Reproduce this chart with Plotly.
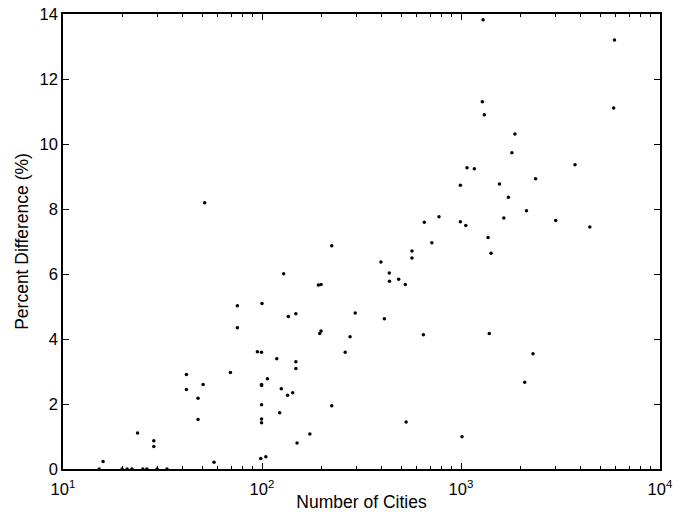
import plotly.graph_objects as go

# Data
cities = [
    15.9, 23.7, 28.6, 28.6, 41.7, 41.7, 47.7, 47.7, 50.6, 51.5, 57.4, 69.4, 75.2, 75.2, 94.8,
    15.2, 19.8, 21.0, 22.2, 25.2, 26.4, 29.7, 33.3,
    99.4, 100, 128.5, 135.6, 148, 192, 198, 198, 195, 294, 277, 262, 118.6, 148, 148,
    106.5, 99.5, 99.5, 125, 134.5, 142.6, 99.5, 122.7, 224, 99.5, 99.5, 174, 150, 98.6, 104.5,
    396, 436, 437, 486, 525, 412, 647, 530, 1012, 567, 567,
    1072, 993, 775, 654, 993, 1057, 224, 714,
    1291, 5905, 1280, 1310, 5850, 1867, 1802, 3741, 1167, 2372, 1561, 1730, 2133, 1641,
    2991, 4439, 1368, 1416,
    1387, 2300, 2090,
]
pct_diff = [
    0.23, 1.11, 0.87, 0.69, 2.91, 2.45, 2.18, 1.52, 2.60, 8.19, 0.21, 2.97, 5.02, 4.35, 3.61,
    0, 0, 0, 0, 0, 0, 0, 0,
    3.59, 5.09, 6.01, 4.69, 4.78, 5.66, 5.68, 4.25, 4.17, 4.80, 4.07, 3.59, 3.39, 3.30, 3.09,
    2.78, 2.60, 2.57, 2.47, 2.27, 2.35, 1.98, 1.73, 1.95, 1.54, 1.42, 1.08, 0.80, 0.32, 0.38,
    6.37, 6.03, 5.78, 5.84, 5.68, 4.62, 4.13, 1.45, 0.99, 6.71, 6.49,
    9.27, 8.73, 7.76, 7.59, 7.61, 7.49, 6.87, 6.96,
    13.82, 13.20, 11.30, 10.90, 11.11, 10.31, 9.73, 9.36, 9.24, 8.93, 8.77, 8.36, 7.95, 7.72,
    7.65, 7.45, 7.12, 6.64,
    4.17, 3.55, 2.67,
]

x_major = [10, 100, 1000, 10000]
x_major_text = ["10<sup>1</sup>", "10<sup>2</sup>", "10<sup>3</sup>", "10<sup>4</sup>"]
x_minor = [m * d for d in (10, 100, 1000) for m in range(2, 10)]
y_ticks = [0, 2, 4, 6, 8, 10, 12, 14]

font_family = "Liberation Sans, Arial, Helvetica, sans-serif"

fig = go.Figure()
fig.add_trace(go.Scatter(
    x=cities, y=pct_diff, mode="markers",
    marker=dict(color="black", size=3.5, symbol="circle", line=dict(width=0)),
    cliponaxis=False, showlegend=False,
))

fig.update_layout(
    width=689, height=512,
    margin=dict(l=63, r=29, t=14, b=43, autoexpand=False),
    paper_bgcolor="white", plot_bgcolor="white",
    font=dict(family=font_family, size=16, color="black"),
    xaxis=dict(
        type="log", range=[1, 4],
        tickmode="array", tickvals=x_major, ticktext=x_major_text,
        ticks="inside", ticklen=6, tickwidth=1.2, tickcolor="black",
        minor=dict(tickmode="array", tickvals=x_minor, ticks="inside", ticklen=3,
                   tickwidth=1, tickcolor="black", showgrid=False),
        showline=True, linecolor="black", linewidth=1.6, mirror="ticks",
        showgrid=False, zeroline=False,
        tickfont=dict(size=16.5), automargin=False, ticklabelstandoff=4,
        title=dict(text="Number of Cities", font=dict(size=17.5), standoff=0),
    ),
    yaxis=dict(
        range=[0, 14], tickmode="array", tickvals=y_ticks,
        ticks="inside", ticklen=6, tickwidth=1.2, tickcolor="black",
        showline=True, linecolor="black", linewidth=1.6, mirror="ticks",
        showgrid=False, zeroline=False,
        tickfont=dict(size=16.5), automargin=False,
        title=dict(text="Percent Difference (%)", font=dict(size=17.5), standoff=6),
    ),
)

fig.write_html("out.html")
